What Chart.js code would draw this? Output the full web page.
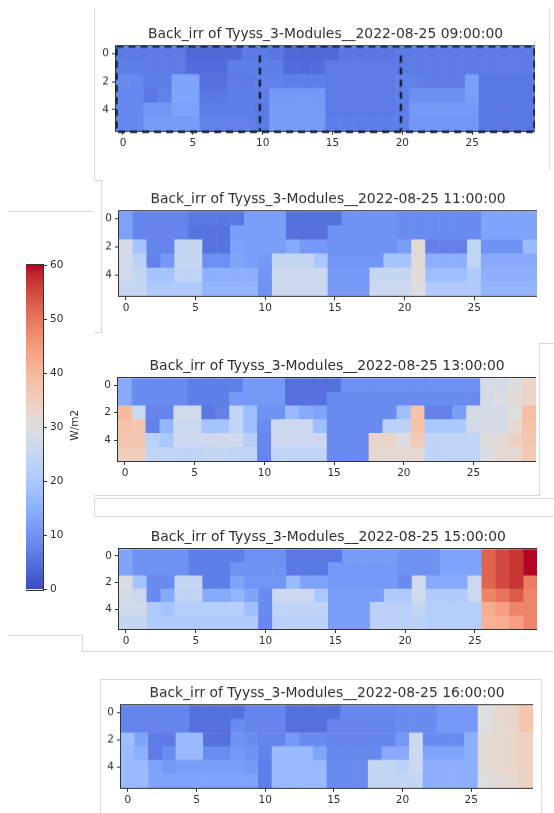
<!DOCTYPE html>
<html>
<head>
<meta charset="utf-8">
<script src="https://cdn.jsdelivr.net/npm/chart.js@4.4.0/dist/chart.umd.min.js"></script>
<style>
  body { margin: 0; background: #fff; }
  #page { position: relative; width: 554px; height: 813px; overflow: hidden; background: #fff; }
  .box { position: absolute; }
  .ln { position: absolute; background: #d8d8d8; }
</style>
</head>
<body>
<div id="page"></div>
<script>
// ---- data ----
const titlePrefix = 'Back_irr of Tyyss_3-Modules__2022-08-25 ';
const hours = ['09:00:00', '11:00:00', '13:00:00', '15:00:00', '16:00:00'];
const columns = [0,1,2,3,4,5,6,7,8,9,10,11,12,13,14,15,16,17,18,19,20,21,22,23,24,25,26,27,28,29];
const rows = [0,1,2,3,4,5];
const xTickValues = [0, 5, 10, 15, 20, 25];
const yTickValues = [0, 2, 4];
const cbarTickValues = [0, 10, 20, 30, 40, 50, 60];
const cbarLabel = 'W/m2';
const moduleEdges = [-0.5, 9.8, 19.9, 29.5];

const irr0900 = [
  [6.5,6.5,6.5,6.5,6.5,4,4,4,4,6.5, 6.5,6,4,4,4,4,6,6,6,6, 6.5,6.5,6.5,6.5,6.5,6.5,6.5,6.5,6.5,6.5],
  [7,7,6.5,6.5,6.5,4.5,4.5,4.5,7,7, 7,7,4.5,4.5,4.5,6.5,6.5,6.5,6.5,6.5, 6.5,6.5,6.5,6.5,6.5,6.5,6.5,6.5,6.5,6.5],
  [9,8.5,7,7,13,13,5,5,6.5,6.5, 7.5,7.5,7,7,7,6.5,6.5,6.5,6.5,6.5, 7.5,7.5,6.5,6.5,6.5,12,6,6,6,6],
  [8.5,8.5,6,7.5,13,13,6,6,7,7, 7,11,11,11,11,6.5,6.5,6.5,6.5,6.5, 7,9.5,9.5,9.5,9.5,12,6,6,6,6],
  [8.5,8.5,10.5,10.5,12.5,12.5,7,7,7,7, 6.5,11.5,11.5,11.5,11.5,6.5,6.5,6.5,6.5,6.5, 7,11,11,11,11,11,6,6,6,6],
  [8.5,8.5,11.5,11.5,11.5,11.5,7.5,7.5,7.5,7.5, 6.5,11.5,11.5,11.5,11.5,7,7,7,7,7, 7,10.5,10.5,10.5,10.5,10.5,6,6,6,6]
];
const irr1100 = [
  [12.5,8,8,8,8,6,6,6,6,12, 12,12,5,5,5,5,10,10,10,10, 9,9,9,9,9,9,13,13,13,13],
  [12.5,8,8,8,8,5.5,5.5,5.5,12,12, 12,12,5,5,5,10,10,10,10,10, 9,9,9,9,9,9,13,13,13,13],
  [28,19,8,8,25,25,5.5,5.5,12.5,12, 12,12,14,11,11,10,10,10,10,10, 12,31.5,7.5,7.5,7.5,24,10,10,10,17],
  [27,23,7.5,11,25,25,9.5,9.5,13,12, 11,25,25,25,20,10.5,10.5,10.5,10.5,19, 19,31.5,15,15,15,24,14,14,14,14],
  [27,25,19,19,24,24,15,15,15,15, 10.5,26,26,26,26,11,11,11,25,25, 25,31,18,18,18,21,15,15,15,15],
  [25,25,21,21,21,21,16,16,16,16, 10,26,26,26,26,11,11,11,26,26, 26,30,21,21,21,21,16,16,16,16]
];
const irr1300 = [
  [14,9,9,9,9,7,7,7,7,11, 11,11,5,5,5,5,9.5,9.5,9.5,9.5, 9.5,9.5,9.5,9.5,9.5,9.5,28,28,30,33],
  [14,9,9,9,9,7,7,7,11,11, 11,11,5,5,5,9,9,9,9,9, 9,9,9,9,9,9,28,29,31,33],
  [40,26,8,8,27,27,6,7.5,24,18, 10,10,17,14,13,9,9,9,9,9, 18,38,7.5,7.5,12,28,28,28,30,39],
  [38,37,7.5,16,26,26,19,19,24,18, 9,26,26,26,18,9,9,9,9,23, 23,38,20,20,20,28,28,28,32,38],
  [37,37,23,20,26,26,26,27,27,22, 8.5,26,26,26,26,9,9,9,33,33, 29,36,24,24,24,24,30,31,34,37],
  [35,35,24,24,24,24,25,25,24,24, 8,24,24,24,24,9,9,9,32,32, 32,32,24,24,24,24,29,32,32,36]
];
const irr1500 = [
  [13,10,10,10,10,7,7,7,7,9.5, 9.5,9.5,6,6,6,6,11.5,11.5,11.5,11.5, 10,10,10,13,13,13,52,55,57,60],
  [13,10,10,10,10,7,7,7,10,10, 10,10,6,6,6,11,11,11,11,11, 10,10,10,13,13,13,52,55,57,60],
  [29,19,9,9,25,25,7,7,13,10.5, 10.5,10.5,17,12.5,12.5,11,11,11,11,11, 9,27,14,14,14,26,52,55,57,49],
  [28,26,9,14,24,24,14,14,16,13, 9,26,26,26,20,12,12,12,12,21, 21,27,21,21,21,26,48,50,53,48],
  [27,27,21,19,22,22,22,22,22,18, 9,24,24,24,24,12,12,12,23,23, 23,25,22,22,22,22,42,44,48,48],
  [25,25,21,21,21,21,21,21,21,21, 8.5,23,23,23,23,12,12,12,23,23, 23,23,22,22,22,22,41,42,44,48]
];
const irr1600 = [
  [8,8,8,8,8,5,5,5,5,8, 8,8,5,5,5,5,8.5,8.5,8.5,8.5, 9,9,9,11,11,11,30,32,33,37],
  [8,8,8,8,8,5,5,5,9,8, 8,8,5,5,5,8,8,8,8,8, 9,9,9,11,11,11,30,32,33,37],
  [18,13,6.5,6.5,17,17,5,5,10,9, 8,8,11,9,9,8,8,8,8,8, 11,26,9,9,9,15,31,32,33,34],
  [17,15,6.5,9,17,17,9,9,11,10, 7.5,17,17,17,13,8.5,8.5,8.5,8.5,14, 14,26,13,13,13,15,31,32,33,34],
  [17,17,13,11,12,12,12,12,12,11, 7,17,17,17,17,9,9,9,25,25, 23,26,15,15,15,15,31,32,33,34],
  [17,17,13,13,13,13,13,13,13,13, 7,17,17,17,17,9,9,9,25,25, 25,25,15,15,15,15,30,31,32,34]
];
const grids = [irr0900, irr1100, irr1300, irr1500, irr1600];

// ---- colormap (matplotlib coolwarm) ----
const coolwarmStops = [
  [59,76,192],[68,90,204],[77,104,215],[87,117,225],[98,130,234],[108,142,241],[119,154,247],[130,165,251],
  [141,176,254],[152,185,255],[163,194,255],[174,201,253],[184,208,249],[194,213,244],[204,217,238],[213,219,230],
  [221,221,221],[229,216,209],[236,211,197],[241,204,184],[245,196,173],[247,187,160],[247,177,148],[247,166,135],
  [244,154,123],[241,141,111],[236,127,99],[229,112,88],[222,96,77],[213,80,66],[203,62,56],[192,40,47],[180,4,38]
];
const cbarMin = cbarTickValues[0];
const cbarMax = cbarTickValues[cbarTickValues.length - 1];

function coolwarm(t) {
  t = Math.min(1, Math.max(0, t));
  const p = t * (coolwarmStops.length - 1);
  const i = Math.min(Math.floor(p), coolwarmStops.length - 2);
  const f = p - i;
  const a = coolwarmStops[i], b = coolwarmStops[i + 1];
  const c = a.map((v, k) => Math.round(v + (b[k] - v) * f));
  return 'rgb(' + c[0] + ',' + c[1] + ',' + c[2] + ')';
}

// ---- page layout ----
const page = document.getElementById('page');
const FONT = 'DejaVu Sans';
const TEXT = '#303030';
const YW = 24, XH = 22, TH = 20.3;

// faint screenshot frame lines [x, y, w, h]
const guideLines = [
  [94, 8, 1, 172], [94, 180, 8, 1], [101, 180, 1, 152], [94, 332, 8, 1],
  [9, 211, 85, 1], [549, 8, 1, 162],
  [539, 343, 15, 1], [539, 343, 1, 152], [94, 495, 446, 1],
  [94, 498, 460, 1], [94, 516, 460, 1], [94, 498, 1, 18],
  [9, 635, 73, 1], [82, 635, 1, 16], [82, 651, 472, 1],
  [100, 679, 441, 1], [100, 679, 1, 134], [541, 679, 1, 134]
];
guideLines.forEach(g => {
  const d = document.createElement('div');
  d.className = 'ln';
  d.style.left = g[0] + 'px'; d.style.top = g[1] + 'px';
  d.style.width = g[2] + 'px'; d.style.height = g[3] + 'px';
  page.appendChild(d);
});

// plot-area rectangles of the five heatmaps
const panelBoxes = [
  { left: 115.5, top: 46.7, width: 419, height: 83.6 },
  { left: 118.7, top: 211.7, width: 418, height: 84 },
  { left: 118.2, top: 378.3, width: 418.3, height: 82.7 },
  { left: 118.8, top: 549.3, width: 418.7, height: 79.7 },
  { left: 120.8, top: 705.7, width: 412, height: 81.6 }
];

function addBox(left, top, width, height) {
  const div = document.createElement('div');
  div.className = 'box';
  div.style.left = left + 'px'; div.style.top = top + 'px';
  div.style.width = width + 'px'; div.style.height = height + 'px';
  const cv = document.createElement('canvas');
  div.appendChild(cv);
  page.appendChild(div);
  return cv;
}

const framePlugin = {
  id: 'frame',
  afterDatasetsDraw(chart) {
    const a = chart.chartArea, c = chart.ctx;
    c.save();
    c.strokeStyle = '#333';
    c.lineWidth = 1;
    c.strokeRect(Math.round(a.left) - 0.5, Math.round(a.top) - 0.5,
      Math.round(a.right - a.left) + 1, Math.round(a.bottom - a.top) + 1);
    c.restore();
  }
};

// dashed outlines around the three modules
const modulesPlugin = {
  id: 'modules',
  afterDraw(chart, args, opts) {
    if (!opts.show) return;
    const a = chart.chartArea, c = chart.ctx, xs = chart.scales.x;
    const x0 = xs.getPixelForValue(moduleEdges[0]);
    const x1 = xs.getPixelForValue(moduleEdges[moduleEdges.length - 1]);
    c.save();
    c.strokeStyle = '#172a45';
    c.lineWidth = 2.6;
    c.setLineDash([7, 5]);
    c.strokeRect(x0 + 0.5, a.top, x1 - x0 - 1, a.bottom - a.top + 1);
    for (let i = 1; i < moduleEdges.length - 1; i++) {
      const x = xs.getPixelForValue(moduleEdges[i]);
      c.beginPath();
      c.moveTo(x, a.top + 9);
      c.lineTo(x, a.bottom);
      c.stroke();
    }
    c.restore();
  }
};

function fixedTicks(values) {
  return s => { s.ticks = values.map(v => ({ value: v })); };
}

function makeHeatmap(canvas, title, grid, showModules) {
  const points = [];
  grid.forEach((row, r) => row.forEach((v, c) => {
    points.push({ x: columns[c], y: [rows[r] - 0.5, rows[r] + 0.5], v: v });
  }));
  return new Chart(canvas, {
    type: 'bar',
    data: {
      datasets: [{
        data: points,
        backgroundColor: ctx => coolwarm((ctx.raw.v - cbarMin) / (cbarMax - cbarMin)),
        borderWidth: 0,
        barPercentage: 1,
        categoryPercentage: 1
      }]
    },
    options: {
      responsive: true,
      maintainAspectRatio: false,
      animation: false,
      events: [],
      layout: { padding: 0 },
      plugins: {
        legend: { display: false },
        tooltip: { enabled: false },
        title: {
          display: true, text: title, fullSize: false, color: TEXT,
          font: { family: FONT, size: 13.9, weight: 'normal' },
          padding: { top: 0, bottom: 3.6 }
        },
        modules: { show: showModules }
      },
      scales: {
        x: {
          type: 'linear', min: columns[0] - 0.5, max: columns[columns.length - 1] + 0.5, offset: false,
          afterFit: s => { s.height = XH; },
          afterBuildTicks: fixedTicks(xTickValues),
          ticks: { autoSkip: false, maxRotation: 0, color: TEXT, font: { family: FONT, size: 10.5 }, padding: 2 },
          grid: { drawOnChartArea: false, offset: false, tickLength: 4, color: '#333' },
          border: { display: false }
        },
        y: {
          type: 'linear', reverse: true, min: rows[0] - 0.5, max: rows[rows.length - 1] + 0.5,
          afterFit: s => { s.width = YW; },
          afterBuildTicks: fixedTicks(yTickValues),
          ticks: { color: TEXT, font: { family: FONT, size: 10.5 }, padding: 3 },
          grid: { drawOnChartArea: false, tickLength: 4, color: '#333' },
          border: { display: false }
        }
      }
    },
    plugins: [framePlugin, modulesPlugin]
  });
}

panelBoxes.forEach((b, i) => {
  const cv = addBox(b.left - YW, b.top - TH, b.width + YW, TH + b.height + XH);
  makeHeatmap(cv, titlePrefix + hours[i], grids[i], i === 0);
});

// ---- colorbar ----
const cbarLabelPlugin = {
  id: 'cbarLabel',
  afterDraw(chart) {
    const a = chart.chartArea, c = chart.ctx;
    c.save();
    c.fillStyle = TEXT;
    c.font = '10.5px "' + FONT + '"';
    c.textAlign = 'center';
    c.textBaseline = 'middle';
    c.translate(a.right + 32, (a.top + a.bottom) / 2 - 2);
    c.rotate(-Math.PI / 2);
    c.fillText(cbarLabel, 0, 0);
    c.restore();
  }
};

const cbCanvas = addBox(26, 255, 60, 345);
new Chart(cbCanvas, {
  type: 'bar',
  data: {
    labels: [cbarLabel],
    datasets: [{
      data: [[cbarMin, cbarMax]],
      backgroundColor: ctx => {
        const a = ctx.chart.chartArea;
        if (!a) return null;
        const g = ctx.chart.ctx.createLinearGradient(0, a.bottom, 0, a.top);
        coolwarmStops.forEach((s, i) => g.addColorStop(i / (coolwarmStops.length - 1), 'rgb(' + s.join(',') + ')'));
        return g;
      },
      borderWidth: 0,
      barPercentage: 1,
      categoryPercentage: 1
    }]
  },
  options: {
    responsive: true,
    maintainAspectRatio: false,
    animation: false,
    events: [],
    layout: { padding: { top: 10, bottom: 10.5, left: 0, right: 0 } },
    plugins: { legend: { display: false }, tooltip: { enabled: false } },
    scales: {
      x: { display: false },
      y: {
        position: 'right', min: cbarMin, max: cbarMax,
        afterFit: s => { s.width = 43; },
        afterBuildTicks: fixedTicks(cbarTickValues),
        ticks: { color: TEXT, font: { family: FONT, size: 10.5 }, padding: 3 },
        grid: { drawOnChartArea: false, tickLength: 4, color: '#333' },
        border: { display: false }
      }
    }
  },
  plugins: [framePlugin, cbarLabelPlugin]
});
</script>
</body>
</html>
